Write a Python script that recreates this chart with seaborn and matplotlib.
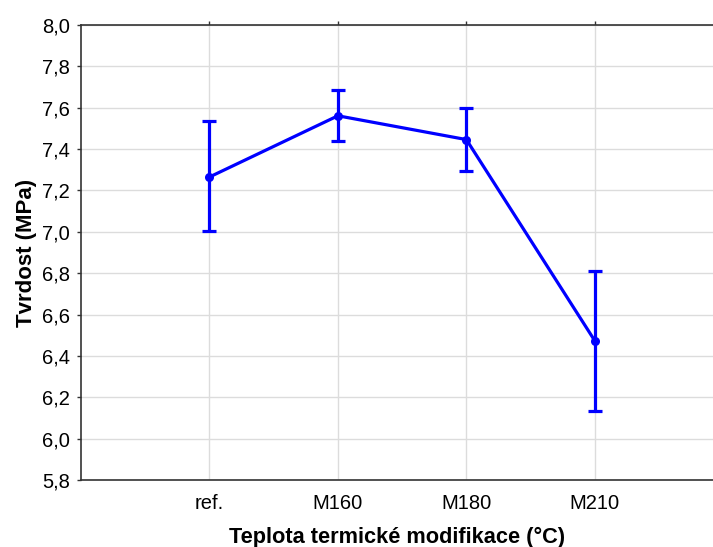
import matplotlib
matplotlib.use("Agg")
import matplotlib.pyplot as plt
import seaborn as sns
import pandas as pd
from matplotlib.ticker import FuncFormatter, MultipleLocator

categories = ["ref.", "M160", "M180", "M210"]
means = [7.265, 7.561, 7.446, 6.473]
upper = [7.536, 7.687, 7.600, 6.812]
lower = [7.004, 7.439, 7.296, 6.135]

sns.set_theme(style="whitegrid")
plt.rcParams['font.family'] = ['Liberation Sans', 'DejaVu Sans']

df = pd.DataFrame({"cat": categories, "val": means})
df["pos"] = range(len(categories))

fig = plt.figure(figsize=(7.13, 5.47), dpi=100)
ax = fig.add_axes([81/713, 67/547, 1 - 81/713, (480-25)/547])

blue = "#0000FF"
sns.lineplot(data=df, x="pos", y="val", ax=ax, color=blue, linewidth=2.3,
             marker="o", markersize=6.5, markeredgewidth=0, zorder=3)
yerr = [[m - l for m, l in zip(means, lower)], [u - m for m, u in zip(means, upper)]]
ax.errorbar(df["pos"], df["val"], yerr=yerr, fmt="none", ecolor=blue,
            elinewidth=2.3, capsize=5, capthick=2.3, zorder=3)

ax.set_xlim(-1, 3.92)
ax.set_ylim(5.8, 8.0)
ax.set_xticks(df["pos"])
ax.set_xticklabels(categories)
ax.yaxis.set_major_locator(MultipleLocator(0.2))
ax.yaxis.set_major_formatter(FuncFormatter(lambda v, p: f"{v:.1f}".replace(".", ",")))

ax.grid(True, color="#dcdcdc", linewidth=1)
for s in ["left", "bottom", "top"]:
    ax.spines[s].set_visible(True)
    ax.spines[s].set_color("#333333")
    ax.spines[s].set_linewidth(1.2)
ax.spines["right"].set_visible(False)
ax.tick_params(axis="both", labelsize=14.5, length=3, width=1, direction="out",
               color="#333333", labelcolor="black")
ax.tick_params(axis="x", top=True, labeltop=False, pad=7)
ax.tick_params(axis="y", left=True, pad=5)

ax.set_xlabel("Teplota termické modifikace (°C)", fontsize=15.7, fontweight="bold", labelpad=10,
              color="black")
ax.set_ylabel("Tvrdost (MPa)", fontsize=16, fontweight="bold", labelpad=3.5, color="black")

fig.savefig("out.png", dpi=100)
